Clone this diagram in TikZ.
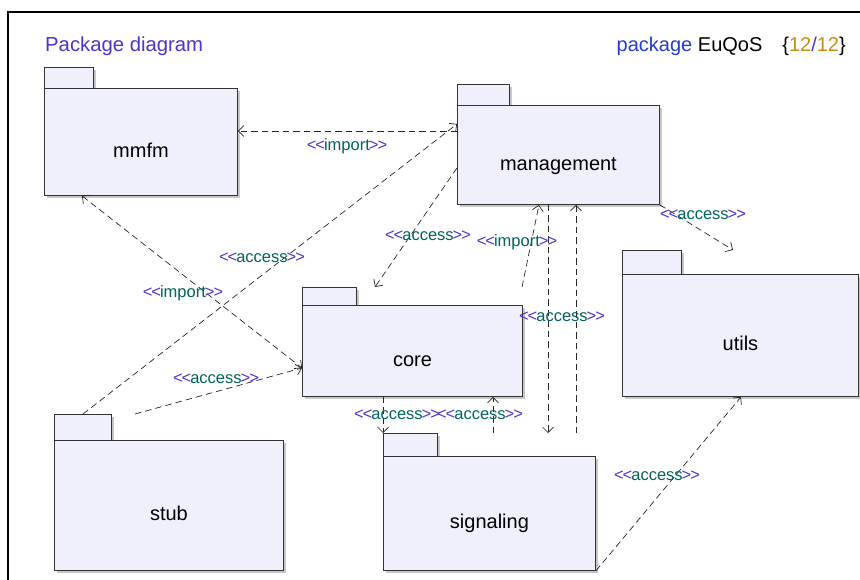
\documentclass[tikz,border=0pt]{standalone}
\usepackage{fontspec}
\setmainfont{Liberation Sans}
\usetikzlibrary{arrows.meta,calc,shadows}
\definecolor{pkgfill}{RGB}{240,240,252}
\definecolor{stpurple}{RGB}{80,50,205}
\definecolor{stteal}{RGB}{0,100,90}
\definecolor{titleblue}{RGB}{35,60,205}
\definecolor{numgold}{RGB}{200,140,20}
\newcommand{\stereo}[1]{{\color{stpurple}<\kern-1pt<}\kern-1pt{\color{stteal}#1}\kern-1pt{\color{stpurple}>\kern-1pt>}}

\begin{document}
\begin{tikzpicture}[x=1pt,y=-1pt,
  pkgshadow/.style={drop shadow={shadow xshift=2.5pt,shadow yshift=-2.5pt,fill=black!22,opacity=1}},
  pkgtab/.style={draw=black!80,line width=0.9pt,fill=pkgfill,anchor=north west,inner sep=0pt,pkgshadow},
  pkgbody/.style={pkgtab,text height=31pt,text depth=0pt,font=\fontsize{20}{22}\selectfont},
  >={Straight Barb[length=5.5pt,width=11pt]},
  dep/.style={draw=black!85,line width=0.7pt,dash pattern=on 6.5pt off 4pt,->},
  stereolbl/.style={inner sep=0pt,text height=9pt,text depth=0pt,font=\fontsize{16.5}{18}\selectfont}]
\useasboundingbox (0,0) rectangle (860,580);
% ---- frame and heading ----
\draw[line width=1.1pt] (8,580) -- (8,12) -- (860,12);
\node[anchor=base west,inner sep=0pt,font=\fontsize{20.3}{24}\selectfont,text=stpurple] (title) at (45,52) {Package diagram};
\node[anchor=base east,inner sep=0pt,font=\fontsize{20}{24}\selectfont] (frame-name) at (846,52)
  {{\color{titleblue}package} EuQoS\hspace{20pt}\{{\color{numgold}12}{\color{stpurple}/}{\color{numgold}12}\}};
% ---- packages (tab, then body) ----
\node[pkgtab,minimum width=49pt,minimum height=21pt] (mmfm-tab) at (44,67) {};
\node[pkgbody,minimum width=193pt,minimum height=107pt] (mmfm) at (44,88) {mmfm};
\node[pkgtab,minimum width=52pt,minimum height=21pt] (management-tab) at (457,84) {};
\node[pkgbody,minimum width=202pt,minimum height=99pt] (management) at (457,105) {management};
\node[pkgtab,minimum width=54pt,minimum height=18pt] (core-tab) at (302,287) {};
\node[pkgbody,minimum width=220pt,minimum height=91pt] (core) at (302,305) {core};
\node[pkgtab,minimum width=59pt,minimum height=24pt] (utils-tab) at (622,250) {};
\node[pkgbody,minimum width=236pt,minimum height=122pt] (utils) at (622,274) {utils};
\node[pkgtab,minimum width=57pt,minimum height=26pt] (stub-tab) at (54,414) {};
\node[pkgbody,minimum width=229pt,minimum height=130pt] (stub) at (54,440) {stub};
\node[pkgtab,minimum width=54pt,minimum height=23pt] (signaling-tab) at (383,433) {};
\node[pkgbody,minimum width=212pt,minimum height=114pt] (signaling) at (383,456) {signaling};
% ---- dependencies ----
\draw[dep] ($(management.north west)+(0,26)$) -- ($(mmfm.north east)+(0,43)$);
\draw[dep] (stub-tab.north) -- ($(management.north west)+(0,19)$);
\draw[dep,<->] ($(mmfm.south west)+(38,0)$) -- ($(core.north west)+(0,63)$);
\draw[dep] ($(stub-tab.north west)+(81,0)$) -- ($(core.north west)+(0,63)$);
\draw[dep] ($(management.north west)+(0,63)$) -- ($(core-tab.north west)+(73,0)$);
\draw[dep] ($(core-tab.north west)+(220,0)$) -- ($(management.south west)+(82,0)$);
\draw[dep] ($(management.south west)+(91,0)$) -- ($(signaling-tab.north west)+(165,0)$);
\draw[dep] ($(signaling-tab.north west)+(193,0)$) -- ($(management.south west)+(119,0)$);
\draw[dep] ($(core.south west)+(81,0)$) -- (signaling-tab.north west);
\draw[dep] ($(signaling-tab.north west)+(110,0)$) -- ($(core.south west)+(191,0)$);
\draw[dep] (management.south east) -- ($(utils-tab.north west)+(111,0)$);
\draw[dep] (signaling.south east) -- ($(utils.south west)+(119,0)$);
% ---- stereotypes ----
\node[stereolbl] (imp-mmfm) at (347,146) {\stereo{import}};
\node[stereolbl] (acc-stub-mgmt) at (262,258) {\stereo{access}};
\node[stereolbl] (imp-core-mmfm) at (183,293) {\stereo{import}};
\node[stereolbl] (acc-stub-core) at (216,379) {\stereo{access}};
\node[stereolbl] (acc-mgmt-core) at (428,236) {\stereo{access}};
\node[stereolbl] (imp-core-mgmt) at (517,242) {\stereo{import}};
\node[stereolbl] (acc-sig-mgmt) at (562,317) {\stereo{access}};
\node[stereolbl] (acc-core-sig) at (397,415) {\stereo{access}};
\node[stereolbl] (acc-sig-core) at (480,415) {\stereo{access}};
\node[stereolbl] (acc-mgmt-utils) at (703,215) {\stereo{access}};
\node[stereolbl] (acc-sig-utils) at (657,476) {\stereo{access}};
\end{tikzpicture}
\end{document}
